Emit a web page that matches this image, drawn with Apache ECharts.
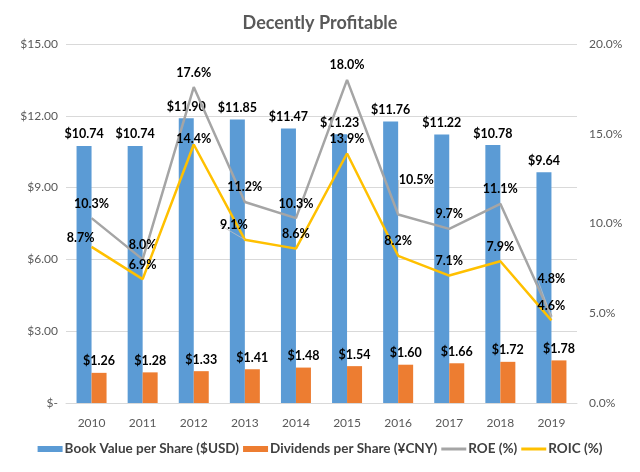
<!DOCTYPE html>
<html>
<head>
<meta charset="utf-8">
<script src="https://cdn.jsdelivr.net/npm/echarts@6/dist/echarts.min.js"></script>
<style>html,body{margin:0;padding:0;background:#fff;}#c{width:640px;height:472px;}</style>
</head>
<body>
<div id="c"></div>
<script>
const years = ['2010','2011','2012','2013','2014','2015','2016','2017','2018','2019'];
const bookValue = [10.74, 10.74, 11.90, 11.85, 11.47, 11.23, 11.76, 11.22, 10.78, 9.64];
const dividends = [1.26, 1.28, 1.33, 1.41, 1.48, 1.54, 1.60, 1.66, 1.72, 1.78];
const roe = [10.3, 8.0, 17.6, 11.2, 10.3, 18.0, 10.5, 9.7, 11.1, 4.8];
const roic = [8.7, 6.9, 14.4, 9.1, 8.6, 13.9, 8.2, 7.1, 7.9, 4.6];
const seriesNames = ['Book Value per Share ($USD)', 'Dividends per Share (¥CNY)', 'ROE (%)', 'ROIC (%)'];

// manual label nudges (style only): key = seriesIndex-dataIndex
const labelNudge = {
  '2-6': [18, -20],
  '2-9': [0, -23],
  '3-0': [-11, 6],
  '3-2': [0, 9],
  '3-3': [-11, 0]
};
// labels that keep a leader line
const leaders = {'2-6': true, '2-9': true, '3-3': true};

const FONT = 'Lato';
const labelStyle = {show: true, position: 'top', color: '#000', fontWeight: 'bold', fontSize: 12.5, fontFamily: FONT, distance: 5};

function lineData(arr, si) {
  return arr.map((v, i) => ({
    value: v,
    labelLine: {show: !!leaders[si + '-' + i], lineStyle: {color: '#bfbfbf', width: 0.8}}
  }));
}

const chart = echarts.init(document.getElementById('c'), null, {renderer: 'canvas'});
chart.setOption({
  animation: false,
  backgroundColor: '#fff',
  title: {
    text: 'Decently Profitable', left: 'center', top: 9,
    textStyle: {fontFamily: FONT, fontSize: 18, fontWeight: 'bold', color: '#595959'}
  },
  grid: {left: 66, right: 63, top: 44, bottom: 69},
  legend: {
    bottom: 11, left: 'center', itemWidth: 25, itemHeight: 6, itemGap: 4,
    textStyle: {fontFamily: FONT, fontSize: 13.5, fontWeight: 'bold', color: '#404040', padding: [0,0,0,-3]},
    data: [
      {name: seriesNames[0], icon: 'rect'},
      {name: seriesNames[1], icon: 'rect'},
      {name: seriesNames[2], icon: 'path://M0,0h25v3h-25z'},
      {name: seriesNames[3], icon: 'path://M0,0h25v3h-25z'}
    ]
  },
  xAxis: {
    type: 'category', data: years,
    axisLine: {lineStyle: {color: '#d9d9d9'}},
    axisTick: {show: false},
    axisLabel: {color: '#595959', fontFamily: FONT, fontSize: 12, margin: 14}
  },
  yAxis: [
    {
      type: 'value', min: 0, max: 15, interval: 3,
      axisLabel: {color: '#595959', fontFamily: FONT, fontSize: 12, margin: 8,
        formatter: v => v === 0 ? '$-' : '$' + v.toFixed(2)},
      splitLine: {lineStyle: {color: '#d9d9d9'}},
      axisLine: {show: false}, axisTick: {show: false}
    },
    {
      type: 'value', min: 0, max: 20, interval: 5,
      axisLabel: {color: '#595959', fontFamily: FONT, fontSize: 12, margin: 12,
        formatter: v => v.toFixed(1) + '%'},
      splitLine: {show: false},
      axisLine: {show: false}, axisTick: {show: false}
    }
  ],
  series: [
    {
      name: seriesNames[0], type: 'bar', data: bookValue, barWidth: 15, barGap: '0%',
      itemStyle: {color: '#5B9BD5'},
      label: Object.assign({}, labelStyle, {formatter: p => '$' + p.value.toFixed(2)}),
      z: 2
    },
    {
      name: seriesNames[1], type: 'bar', data: dividends, barWidth: 15, barGap: '0%',
      itemStyle: {color: '#ED7D31'},
      label: Object.assign({}, labelStyle, {formatter: p => '$' + p.value.toFixed(2)}),
      z: 2
    },
    {
      name: seriesNames[2], type: 'line', yAxisIndex: 1, data: lineData(roe, 2),
      symbol: 'circle', symbolSize: 0, showSymbol: true,
      lineStyle: {color: '#A5A5A5', width: 2.5}, itemStyle: {color: '#A5A5A5'},
      label: Object.assign({}, labelStyle, {distance: 8, formatter: p => p.value.toFixed(1) + '%'}),
      z: 3
    },
    {
      name: seriesNames[3], type: 'line', yAxisIndex: 1, data: lineData(roic, 3),
      symbol: 'circle', symbolSize: 0, showSymbol: true,
      lineStyle: {color: '#FFC000', width: 2.5}, itemStyle: {color: '#FFC000'},
      label: Object.assign({}, labelStyle, {distance: 8, formatter: p => p.value.toFixed(1) + '%'}),
      z: 4
    }
  ],
  labelLayout: function (params) {
    const n = labelNudge[params.seriesIndex + '-' + params.dataIndex];
    if (!n) return {};
    return {dx: n[0], dy: n[1]};
  }
});
</script>
</body>
</html>
